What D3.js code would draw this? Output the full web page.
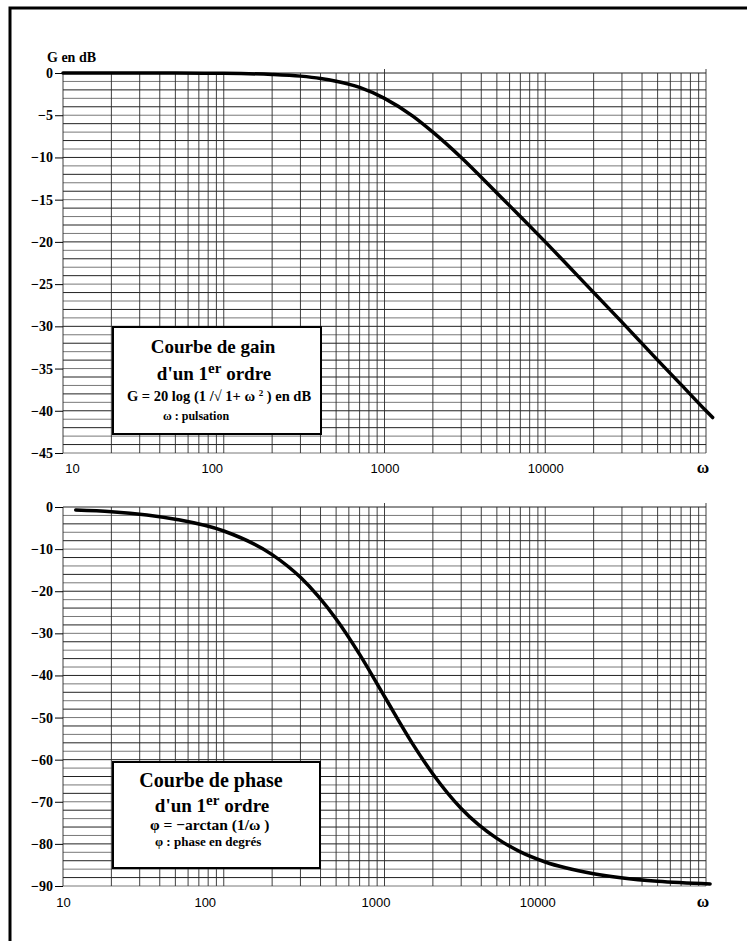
<!DOCTYPE html>
<html>
<head>
<meta charset="utf-8">
<script src="https://cdn.jsdelivr.net/npm/d3@7"></script>
<style>
  body { margin: 0; background: #fff; }
  svg text { fill: #000; }
</style>
</head>
<body>
<div id="chart"></div>
<script>
const gainOmega = [10, 20, 50, 100, 200, 300, 400, 500, 700, 1000, 1500, 2000, 3000, 5000, 7000, 10000, 20000, 30000, 50000, 70000, 100000, 110000]
const gainDb = [0, 0, -0.01, -0.04, -0.17, -0.37, -0.64, -0.97, -1.7, -3.0, -5.1, -7.0, -10.0, -14.2, -17.0, -20.0, -26.0, -29.5, -34.0, -36.9, -40.0, -40.8]

// pulsation values, phase in degrees
const phaseOmega = [12, 20, 50, 100, 200, 300, 500, 700, 1000, 1500, 2000, 3000, 5000, 7000, 10000, 20000, 50000, 106000]
const phaseDeg = [-0.7, -1.1, -2.9, -5.7, -11.3, -16.7, -26.6, -35.0, -45.0, -56.3, -63.4, -71.6, -78.7, -81.9, -84.3, -87.1, -88.9, -89.5]

// tick labels
const xTickValues = [10, 100, 1000, 10000]
const gainTicks = [0, -5, -10, -15, -20, -25, -30, -35, -40, -45]
const phaseTicks = [0, -10, -20, -30, -40, -50, -60, -70, -80, -90]

const W = 747, H = 941

const svg = d3.select("#chart")
    .append("svg")
    .attr("width", W)
    .attr("height", H)

// outer frame (right/bottom edges fall outside the picture)
svg.append("rect")
    .attr("x", 10).attr("y", 8)
    .attr("width", 800).attr("height", 1000)
    .attr("fill", "none")
    .attr("stroke", "#000")
    .attr("stroke-width", 3)

const x = d3.scaleLog()
    .domain([10, 100000])
    .range([63, 706])

// every 1..9 per decade
const gridX = []
for (let p = 10; p < 100000; p *= 10) {
    for (let k = 1; k < 10; k++) gridX.push(k * p)
}
gridX.push(100000)

function panel(cfg) {
    const y = d3.scaleLinear()
        .domain([0, cfg.min])
        .range([cfg.top, cfg.bottom])
    const g = svg.append("g")

    // horizontal grid
    const hLines = d3.range(0, cfg.min - 0.001, -cfg.minor)
    g.selectAll(".h")
        .data(hLines)
        .join("line")
        .attr("x1", x(10)).attr("x2", x(100000))
        .attr("y1", d => y(d)).attr("y2", d => y(d))
        .attr("stroke", (d, i) => i % 2 ? "#555" : "#222")
        .attr("stroke-width", (d, i) => i % 2 ? 0.8 : 1)

    // vertical grid, decade lines stick out a little at the top
    g.selectAll(".v")
        .data(gridX)
        .join("line")
        .attr("x1", d => x(d)).attr("x2", d => x(d))
        .attr("y1", d => (d === 1000 || d === 100000) ? y(0) - 4 : y(0))
        .attr("y2", y(cfg.min))
        .attr("stroke", "#2a2a2a")
        .attr("stroke-width", 0.9)

    // left axis
    const axis = g.append("g")
        .attr("transform", `translate(${x(10)},0)`)
        .call(d3.axisLeft(y).tickValues(cfg.ticks).tickSize(8).tickPadding(2))
    axis.select(".domain").remove()
    axis.selectAll("line").attr("stroke", "#000").attr("stroke-width", 1)
    axis.selectAll("text")
        .attr("font-family", "Liberation Serif, serif")
        .attr("font-weight", "bold")
        .attr("font-size", 14)
        .attr("fill", "#000")

    // bottom labels (hand-lettered, so each sits a bit off its line)
    const xa = g.append("g")
        .attr("transform", `translate(0,${y(cfg.min)})`)
        .call(d3.axisBottom(x).tickValues(xTickValues).tickFormat(d3.format("d")).tickSize(0).tickPadding(cfg.pad))
    xa.select(".domain").remove()
    xa.selectAll("text")
        .attr("font-family", "Liberation Sans, Arial, sans-serif")
        .attr("font-size", 13)
        .attr("fill", "#000")
        .attr("dx", (d, i) => cfg.nudge[i])

    g.append("text")
        .attr("x", x(100000) - 3)
        .attr("y", y(cfg.min) + cfg.pad + 9)
        .attr("text-anchor", "middle")
        .attr("font-family", "Liberation Serif, serif")
        .attr("font-weight", "bold")
        .attr("font-size", 17)
        .text("ω")

    // curve
    const pts = cfg.omega.map((w, i) => ({ w: w, v: cfg.values[i] }))
    g.append("path")
        .datum(pts)
        .attr("fill", "none")
        .attr("stroke", "#000")
        .attr("stroke-width", 3.5)
        .attr("stroke-linecap", "round")
        .attr("d", d3.line()
            .curve(d3.curveMonotoneX)
            .x(d => x(d.w))
            .y(d => y(d.v)))

    return g
}

panel({ min: -45, top: 73, bottom: 453, minor: 1, ticks: gainTicks,
    omega: gainOmega, values: gainDb, pad: 11, nudge: [9, -12, 0, 0] })
panel({ min: -90, top: 507, bottom: 886, minor: 2, ticks: phaseTicks,
    omega: phaseOmega, values: phaseDeg, pad: 12, nudge: [0, -19, -9, -8] })

svg.append("text")
    .attr("x", 47).attr("y", 62)
    .attr("font-family", "Liberation Serif, serif")
    .attr("font-weight", "bold")
    .attr("font-size", 14)
    .text("G en dB")

// legend boxes
function box(x0, y0, w, h) {
    svg.append("rect")
        .attr("x", x0).attr("y", y0)
        .attr("width", w).attr("height", h)
        .attr("fill", "#fff")
        .attr("stroke", "#000")
        .attr("stroke-width", 2)
}

function serif(t, xx, yy, size, anchor) {
    return svg.append("text")
        .attr("x", xx).attr("y", yy)
        .attr("text-anchor", anchor || "middle")
        .attr("font-family", "Liberation Serif, serif")
        .attr("font-weight", "bold")
        .attr("font-size", size)
        .text(t)
}

function firstOrder(xx, yy, size) {
    const t = serif("d'un 1", xx, yy, size)
    t.append("tspan").attr("dy", -7).attr("font-size", size - 4).text("er")
    t.append("tspan").attr("dy", 7).text(" ordre")
}

box(113, 327, 208, 107)
serif("Courbe de gain", 213, 353, 19)
firstOrder(214, 380, 19)
const f = serif("G = 20 log (1 /√ 1+ ω ", 219, 401, 14.5)
f.append("tspan").attr("font-size", 9).attr("dy", -5).text("2")
f.append("tspan").attr("dy", 5).text(" )  en dB")
serif("ω  :  pulsation", 196, 420, 12)

box(113, 762, 207, 106)
serif("Courbe de phase", 211, 787, 20)
firstOrder(212, 812, 19)
serif("φ = −arctan (1/ω )", 150, 830, 15.5, "start")
serif("φ : phase en degrés", 155, 846, 13, "start")
</script>
</body>
</html>
